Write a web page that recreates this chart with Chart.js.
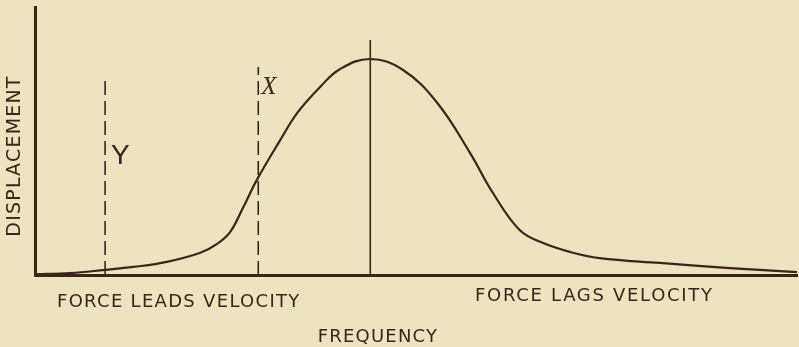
<!DOCTYPE html>
<html lang="en">
	<head>
		<meta charset="UTF-8" />
		<title>Displacement vs Frequency</title>
		<script src="https://cdn.jsdelivr.net/npm/chart.js"></script>
		<style>
			body { margin: 0; background: #eee3c1; }
			canvas { display: block; }
		</style>
	</head>
	<body>
		<canvas id="myChart" width="799" height="347"></canvas>

		<script>
			// resonance curve, frequency and displacement in arbitrary units (0-100)
			const frequency = [0, 4.6, 9.2, 12.9, 17.3, 21.7, 23.9, 25.6, 27.2, 29.1, 32.2, 34.4, 37.4, 40.0, 44.0, 48.3, 52.8, 57.1, 60.1, 63.6, 66.7, 70.2, 74.1, 82.0, 91.2, 100];
			const displacement = [0.3, 0.7, 1.9, 3.0, 4.9, 8.3, 11.6, 16.0, 24.5, 35.4, 50.4, 60.4, 70.1, 76.8, 80.6, 76.5, 64.2, 45.5, 30.6, 16.8, 11.9, 8.6, 6.3, 4.5, 2.6, 1.1];

			// vertical markers: Y and X dashed, resonance line solid
			const markerFreq = [9.2, 29.3, 44.0];
			const markerTop = [74.3, 77.6, 87.7];
			const markerNames = ["Y", "X", ""];
			const markerDashed = [true, true, false];

			const ink = "#3b2418";

			const markerSets = markerFreq.map((f, i) => ({
				data: [
					{ x: f, y: 0 },
					{ x: f, y: markerTop[i] },
				],
				borderColor: ink,
				borderWidth: 1.6,
				borderDash: markerDashed[i] ? [14, 6] : [],
				pointRadius: 0,
			}));

			const labels = {
				id: "labels",
				afterDraw(chart) {
					const ctx = chart.ctx;
					const area = chart.chartArea;
					const xs = chart.scales.x;
					const ys = chart.scales.y;
					ctx.save();
					ctx.fillStyle = ink;

					ctx.font = "18px 'DejaVu Sans'";
					ctx.letterSpacing = "1.3px";
					ctx.textBaseline = "middle";
					ctx.textAlign = "left";
					ctx.fillText("FORCE LEADS VELOCITY", area.left + 22, area.bottom + 27);
					ctx.letterSpacing = "1.7px";
					ctx.fillText("FORCE LAGS VELOCITY", area.left + 440, area.bottom + 21);
					ctx.letterSpacing = "1.2px";
					ctx.textAlign = "center";
					ctx.fillText("FREQUENCY", area.left + 343, area.bottom + 62);

					// vertical axis title
					ctx.save();
					ctx.translate(area.left - 20, (area.top + area.bottom) / 2 + 15);
					ctx.rotate(-Math.PI / 2);
					ctx.letterSpacing = "1.2px";
					ctx.font = "19px 'DejaVu Sans'";
					ctx.fillText("DISPLACEMENT", 0, 0);
					ctx.restore();

					// marker letters
					ctx.letterSpacing = "0px";
					ctx.textAlign = "left";
					ctx.textBaseline = "alphabetic";
					ctx.font = "28px 'Liberation Sans'";
					ctx.fillText(markerNames[0], xs.getPixelForValue(markerFreq[0]) + 6, ys.getPixelForValue(41.5));
					ctx.font = "italic 25px 'Liberation Serif'";
					ctx.fillText(markerNames[1], xs.getPixelForValue(markerFreq[1]) + 3, ys.getPixelForValue(67.5));
					ctx.restore();
				},
			};

			const noSize = (s) => {
				if (s.isHorizontal()) s.height = 0;
				else s.width = 0;
			};

			const axis = {
				type: "linear",
				min: 0,
				max: 100,
				ticks: { display: false },
				grid: { display: false, drawTicks: false },
				border: { color: ink, width: 3 },
				afterFit: noSize,
			};

			const ctx = document.getElementById("myChart").getContext("2d");
			const myChart = new Chart(ctx, {
				type: "line",
				data: {
					datasets: [
						{
							data: frequency.map((f, i) => ({ x: f, y: displacement[i] })),
							borderColor: ink,
							borderWidth: 2.2,
							pointRadius: 0,
							tension: 0.4,
						},
						...markerSets,
					],
				},
				options: {
					responsive: false,
					animation: false,
					layout: { padding: { left: 35, top: 7, right: 2, bottom: 72 } },
					plugins: { legend: { display: false }, tooltip: { enabled: false } },
					scales: { x: axis, y: { ...axis } },
				},
				plugins: [labels],
			});
		</script>
	</body>
</html>
